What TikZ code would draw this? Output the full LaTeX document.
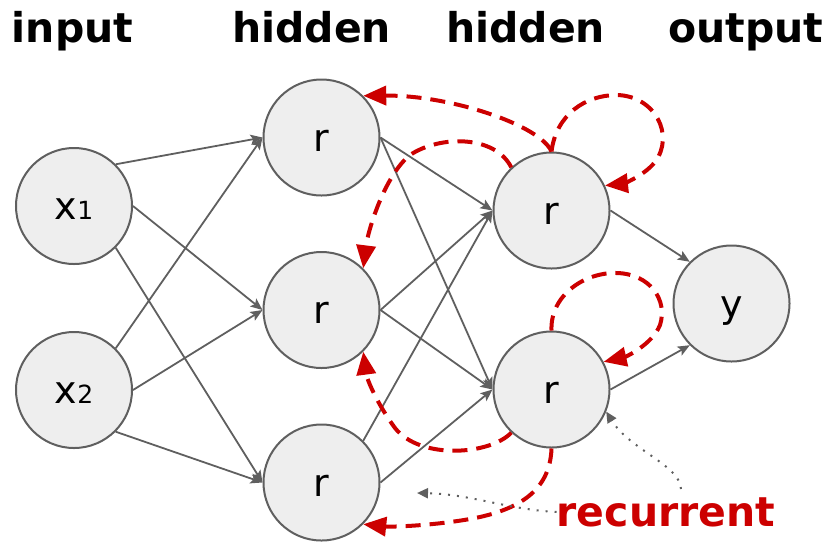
\documentclass[tikz,border=0pt]{standalone}
\usepackage{fontspec}
\setmainfont{DejaVu Sans}
\usetikzlibrary{arrows.meta}

\definecolor{linegray}{HTML}{5F5F5F}
\definecolor{recred}{HTML}{CC0000}
\definecolor{cellgray}{HTML}{EEEEEE}

\begin{document}
\begin{tikzpicture}[x=1pt,y=-1pt,
  unit/.style={circle,draw=linegray,line width=2pt,fill=cellgray,
    minimum size=116pt,inner sep=0pt,text height=27pt,text depth=0pt,
    font=\fontsize{38}{40}\selectfont},
  link/.style={draw=linegray,line width=1.8pt,
    -{Stealth[length=12pt,width=10pt,inset=2.5pt]}},
  feedback/.style={draw=recred,line width=4pt,dash pattern=on 15pt off 9pt,
    -{Triangle[length=23pt,width=19pt]}},
  hint/.style={draw=linegray,line width=2pt,dash pattern=on 2pt off 7pt,
    -{Triangle[length=11pt,width=10pt]}},
  head/.style={font=\fontsize{41}{42}\selectfont\bfseries,anchor=base,inner sep=0pt}]

\useasboundingbox (0,0) rectangle (829,542);

\def\sub#1{{\fontsize{25}{26}\selectfont #1}}

% column titles
\node[head] (tin)  at (72.5,42)  {input};
\node[head] (th1)  at (311.5,42) {hidden};
\node[head] (th2)  at (525.5,42) {hidden};
\node[head] (tout) at (746,42)   {output};

% units
\node[unit] (in1) at (74,206)      {x\sub{1}};
\node[unit] (in2) at (74,390)      {x\sub{2}};
\node[unit] (h1a) at (321.5,137.5) {r};
\node[unit] (h1b) at (321.5,310)   {r};
\node[unit] (h1c) at (321.5,482.5) {r};
\node[unit] (h2a) at (551.5,210.5) {r};
\node[unit] (h2b) at (551.5,389.5) {r};
\node[unit] (out) at (731.5,303.5) {y};

% forward links
\foreach \s in {in1,in2}
{
 \draw[link] (\s.45)  -- (h1a.west);
 \draw[link] (\s.east) -- (h1b.west);
 \draw[link] (\s.-45) -- (h1c.west);
}
\foreach \t in {h2a,h2b}
{
 \draw[link] (h1a.east) -- (\t.west);
 \draw[link] (h1b.east) -- (\t.west);
}
\draw[link] (h1c.45)   -- (h2a.west);
\draw[link] (h1c.east) -- (h2b.west);
\draw[link] (h2a.east) -- (out.135);
\draw[link] (h2b.east) -- (out.-135);

% recurrent links
\draw[feedback] (h2a.north) .. controls (540,125) and (450,95) .. (h1a.45);
\draw[feedback] (h2a.north) .. controls (556,115) and (585,95) .. (617,95)
  .. controls (655,96) and (675,135) .. (655,162)
  .. controls (642,178) and (620,184) .. (h2a.25);
\draw[feedback] (h2a.133) .. controls (495,135) and (440,135) .. (410,155)
  .. controls (385,175) and (368,230) .. (h1b.45);
\draw[feedback] (h2b.north) .. controls (550,295) and (585,272) .. (617,273)
  .. controls (650,274) and (668,300) .. (660,325)
  .. controls (652,345) and (625,357) .. (h2b.28);
\draw[feedback] (h2b.227) .. controls (490,455) and (420,460) .. (395,428)
  .. controls (378,405) and (367,380) .. (h1b.-45);
\draw[feedback] (h2b.south) .. controls (550,490) and (520,510) .. (470,519)
  .. controls (430,526) and (390,527) .. (h1c.-45);

% label
\node[font=\fontsize{41}{42}\selectfont\bfseries,text=recred,anchor=base,inner sep=0pt]
  (rtxt) at (666,526) {recurrent};
\coordinate (pL) at (417,493);
\coordinate (pR) at (681,489);
\draw[hint] (rtxt.west) .. controls (510,510) and (470,494) .. (pL);
\draw[hint] (pR) .. controls (680,465) and (630,450) .. (h2b.-22);

\end{tikzpicture}
\end{document}
